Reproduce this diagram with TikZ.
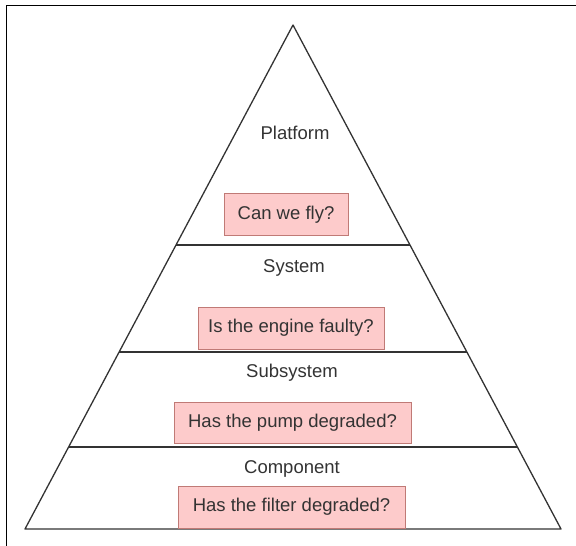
\documentclass[tikz,border=0pt]{standalone}
\usepackage{fontspec}
\setmainfont{Liberation Sans}
\usetikzlibrary{positioning,calc}
\definecolor{qfill}{HTML}{FDCBCB}
\definecolor{qline}{HTML}{C07A76}
\definecolor{ink}{HTML}{333333}

\begin{document}
\begin{tikzpicture}[x=1pt, y=-1pt,
  question/.style={draw=qline, fill=qfill, line width=0.9pt, minimum height=42pt,
                   inner sep=0pt, font=\fontsize{18.5}{22}\selectfont, text=ink},
  level/.style={font=\fontsize{18.5}{22}\selectfont, text=ink},
  edge/.style={draw=ink, line width=1.3pt}]
\useasboundingbox (0,0) rectangle (576,546);
% frame (only top and left visible)
\draw[line width=1.6pt] (576,5.5) -- (6.5,5.5) -- (6.5,546);
% pyramid
\coordinate (apex) at (293,25);
\coordinate (bl) at (25,529);
\coordinate (br) at (561,529);
\draw[edge, line join=round] (apex) -- (bl) -- (br) -- cycle;
\draw[edge] ($(apex)!0.4365!(bl)$) -- ($(apex)!0.4365!(br)$);
\draw[edge] ($(apex)!0.6488!(bl)$) -- ($(apex)!0.6488!(br)$);
\draw[edge] ($(apex)!0.8373!(bl)$) -- ($(apex)!0.8373!(br)$);
% levels
\node[level] (platform) at (295,133) {Platform};
\node[level] (system) at (294,268) {System};
\node[level] (subsystem) at (292,373) {Subsystem};
\node[level] (component) at (292,469) {Component};
% questions
\node[question, minimum width=124pt] (fly) at (286,214.5) {Can we fly?};
\node[question, minimum width=186pt] (engine) at (291,328) {Is the engine faulty?};
\node[question, minimum width=237pt, minimum height=41pt] (pump) at (292.5,422.5) {Has the pump degraded?};
\node[question, minimum width=227pt] (filter) at (291.5,507) {Has the filter degraded?};
\end{tikzpicture}
\end{document}
